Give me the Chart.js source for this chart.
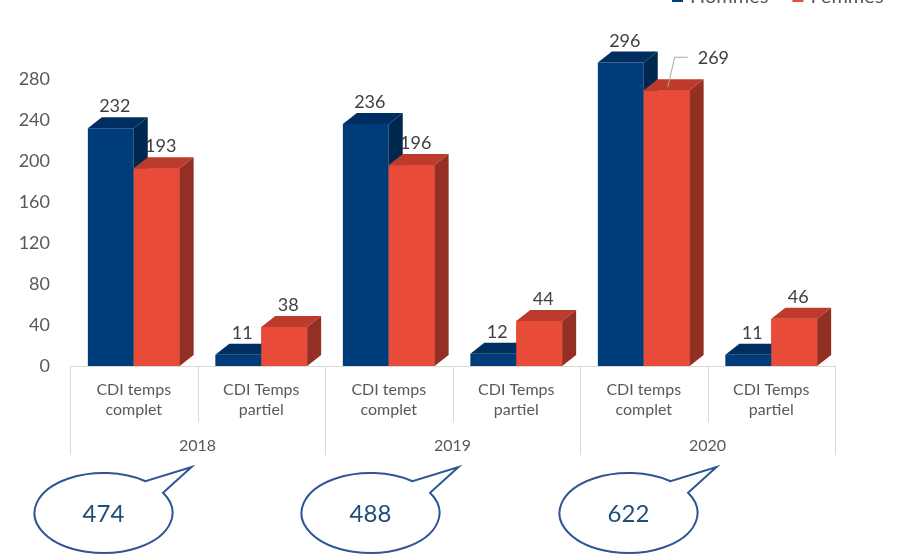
<!DOCTYPE html>
<html>
<head>
<meta charset="utf-8">
<script src="https://cdn.jsdelivr.net/npm/chart.js@4/dist/chart.umd.min.js"></script>
<style>
  html, body { margin: 0; padding: 0; background: #ffffff; overflow: hidden; }
  #wrap { position: absolute; left: 0; top: 0; width: 907px; height: 555px; }
</style>
</head>
<body>
<div id="wrap"><canvas id="c" width="907" height="555"></canvas></div>
<script>
// ---- data ----
const years = ['2018', '2019', '2020'];
const contractTypes = [['CDI temps', 'complet'], ['CDI Temps', 'partiel']];
const seriesNames = ['Hommes', 'Femmes'];
const hommes = [232, 11, 236, 12, 296, 11];
const femmes = [193, 38, 196, 44, 269, 46];
const totals = [474, 488, 622];
const yTickValues = [0, 40, 80, 120, 160, 200, 240, 280];

const categories = years.flatMap(() => contractTypes);

const FONT = 'Lato, "Noto Sans", sans-serif';
const DX = 14, DY = 11;

const faceColors = [
  { front: '#003B7A', top: '#002E60', side: '#00284F' },
  { front: '#E84B37', top: '#BC3B2C', side: '#932F23' }
];

const bars3d = {
  id: 'bars3d',
  afterDatasetsDraw(chart) {
    const ctx = chart.ctx;
    const metas = chart.data.datasets.map((d, i) => chart.getDatasetMeta(i));
    const n = chart.data.labels.length;
    ctx.save();
    for (let j = 0; j < n; j++) {
      metas.forEach((meta, d) => {
        const el = meta.data[j];
        const c = faceColors[d];
        const l = el.x - el.width / 2, r = el.x + el.width / 2;
        const t = el.y, b = el.base;
        if (d > 0) { ctx.fillStyle = c.front; ctx.fillRect(l, t, r - l, b - t); }
        ctx.fillStyle = c.top;
        ctx.beginPath();
        ctx.moveTo(l, t); ctx.lineTo(l + DX, t - DY); ctx.lineTo(r + DX, t - DY); ctx.lineTo(r, t);
        ctx.closePath(); ctx.fill();
        ctx.fillStyle = c.side;
        ctx.beginPath();
        ctx.moveTo(r, t); ctx.lineTo(r + DX, t - DY); ctx.lineTo(r + DX, b - DY); ctx.lineTo(r, b);
        ctx.closePath(); ctx.fill();
      });
    }
    // value labels
    ctx.font = '18px ' + FONT;
    ctx.fillStyle = '#404040';
    ctx.textBaseline = 'alphabetic';
    metas.forEach((meta, d) => {
      const data = chart.data.datasets[d].data;
      meta.data.forEach((el, j) => {
        const v = data[j];
        const t = el.y;
        if (d === 1 && j === 4) {
          // leader line label
          ctx.strokeStyle = '#a6a6a6'; ctx.lineWidth = 1;
          ctx.beginPath();
          ctx.moveTo(el.x + 1, t - 3); ctx.lineTo(el.x + 8, t - 33); ctx.lineTo(el.x + 21, t - 33);
          ctx.stroke();
          ctx.textAlign = 'left';
          ctx.textBaseline = 'middle';
          ctx.fillText(String(v), el.x + 31, t - 32);
          ctx.textBaseline = 'alphabetic';
        } else {
          ctx.textAlign = 'center';
          ctx.fillText(String(v), el.x + 4, t - DY - 5);
        }
      });
    });
    ctx.restore();
  }
};

const axisDecor = {
  id: 'axisDecor',
  afterDraw(chart) {
    const ctx = chart.ctx;
    const a = chart.chartArea;
    const n = chart.data.labels.length;
    const cw = (a.right - a.left) / n;
    const per = contractTypes.length;
    ctx.save();
    ctx.strokeStyle = '#d9d9d9';
    ctx.lineWidth = 1;
    for (let i = 0; i <= n; i++) {
      const x = Math.round(a.left + i * cw) + 0.5;
      const yEnd = (i % per === 0) ? a.bottom + 89 : a.bottom + 56;
      ctx.beginPath(); ctx.moveTo(x, a.bottom); ctx.lineTo(x, yEnd); ctx.stroke();
    }
    ctx.font = '16px ' + FONT;
    ctx.fillStyle = '#595959';
    ctx.textAlign = 'center';
    ctx.textBaseline = 'middle';
    years.forEach((y, k) => {
      const cx = a.left + (k + 0.5) * per * cw;
      ctx.fillText(y, cx, a.bottom + 80);
    });

    // legend (partially cut at top)
    ctx.font = '20px ' + FONT;
    ctx.textAlign = 'left';
    ctx.textBaseline = 'alphabetic';
    let lx = 672;
    chart.data.datasets.forEach((ds, d) => {
      ctx.fillStyle = faceColors[d].front;
      ctx.fillRect(lx, -9, 11, 11);
      ctx.fillStyle = '#595959';
      ctx.fillText(ds.label, lx + 18, 3);
      lx += 18 + ctx.measureText(ds.label).width + 24;
    });

    // callouts
    const offs = [-94, -82, -79];
    totals.forEach((tot, k) => {
      const gx = a.left + (k + 0.5) * per * cw;
      const cx = gx + offs[k], cy = 513, rx = 69, ry = 40;
      const aA = Math.atan2(-31 / ry, 41 / rx);
      const aB = Math.atan2(-20 / ry, 59 / rx);
      ctx.beginPath();
      ctx.ellipse(cx, cy, rx, ry, 0, aB, aA + Math.PI * 2, false);
      ctx.lineTo(cx + 88, cy - 46);
      ctx.closePath();
      ctx.fillStyle = '#ffffff';
      ctx.fill();
      ctx.strokeStyle = '#2F5597';
      ctx.lineWidth = 2;
      ctx.stroke();
      ctx.font = '24px ' + FONT;
      ctx.fillStyle = '#1F4E79';
      ctx.textAlign = 'center';
      ctx.textBaseline = 'middle';
      ctx.fillText(String(tot), cx, cy + 1);
    });
    ctx.restore();
  }
};

new Chart(document.getElementById('c'), {
  type: 'bar',
  data: {
    labels: categories,
    datasets: [
      { label: seriesNames[0], data: hommes, backgroundColor: faceColors[0].front, borderWidth: 0 },
      { label: seriesNames[1], data: femmes, backgroundColor: faceColors[1].front, borderWidth: 0 }
    ]
  },
  options: {
    responsive: false,
    animation: false,
    devicePixelRatio: 1,
    layout: { padding: { left: 0, right: 72, top: 38, bottom: 0 } },
    categoryPercentage: 0.72,
    barPercentage: 1.0,
    plugins: { legend: { display: false }, tooltip: { enabled: false } },
    scales: {
      x: {
        grid: { display: false, drawTicks: false },
        border: { display: true, color: '#d9d9d9', width: 1 },
        ticks: { font: { family: FONT, size: 16, lineHeight: 1.25 }, color: '#595959', padding: 14, maxRotation: 0, autoSkip: false },
        afterFit(s) { s.height = 189; }
      },
      y: {
        min: 0, max: 320,
        grid: { display: false, drawTicks: false },
        border: { display: false },
        afterBuildTicks(s) { s.ticks = yTickValues.map(v => ({ value: v })); },
        ticks: { font: { family: FONT, size: 18 }, color: '#595959', padding: 20 },
        afterFit(s) { s.width = 70; }
      }
    }
  },
  plugins: [bars3d, axisDecor]
});
</script>
</body>
</html>
